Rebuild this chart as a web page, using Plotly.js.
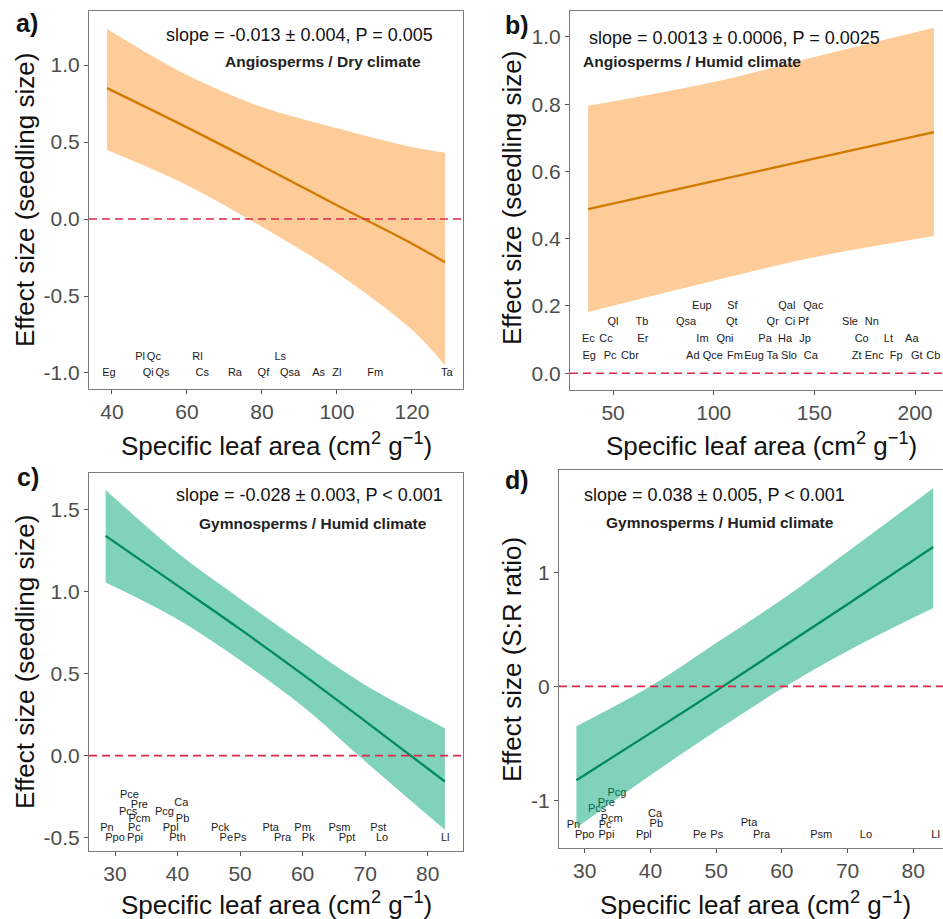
<!DOCTYPE html>
<html>
<head>
<meta charset="utf-8">
<script src="https://cdn.plot.ly/plotly-3.0.1.min.js"></script>
<style>body{margin:0;background:#fff;} #graph{width:943px;height:919px;}</style>
</head>
<body>
<div id="graph"></div>
<script>
// Panel a: angiosperms / dry climate
const aX = [38.7, 60, 80, 100, 120, 128.8];
const aFit = [0.85, 0.595, 0.345, 0.09, -0.16, -0.28];
const aUp = [1.234, 0.935, 0.727, 0.59, 0.468, 0.43];
const aLo = [0.448, 0.22, -0.05, -0.35, -0.72, -0.95];
const aLab = ['Eg','Pl','Qc','Qi','Qs','Rl','Cs','Ra','Qf','Ls','Qsa','As','Zl','Fm','Ta'];
const aLabX = [39.2, 47.5, 51.2, 49.7, 53.5, 62.8, 64.1, 72.8, 80.4, 84.9, 87.5, 95.1, 100, 110.2, 129.3];
const aLabY = [-1, -0.9, -0.9, -1, -1, -0.9, -1, -1, -1, -0.9, -1, -1, -1, -1, -1];

// Panel b: angiosperms / humid climate
const bX = [37.6, 100, 150, 209.4];
const bFit = [0.488, 0.571, 0.638, 0.717];
const bUp = [0.795, 0.866, 0.94, 1.027];
const bLo = [0.182, 0.275, 0.345, 0.408];
const bLab = ['Eup','Sf','Qal','Qac','Ql','Tb','Qsa','Qt','Qr','Ci','Pf','Sle','Nn',
  'Ec','Cc','Er','Im','Qni','Pa','Ha','Jp','Co','Lt','Aa',
  'Eg','Pc','Cbr','Ad','Qce','Fm','Eug','Ta','Slo','Ca','Zt','Enc','Fp','Gt','Cb'];
const bLabX = [94.1,109.3,136.3,149.5,49.9,64.3,86.3,109.0,129.3,137.9,144.5,167.7,178.5,
  37.7,46.5,64.8,94.4,105.6,125.5,135.4,145.4,173.5,186.8,198.4,
  38.1,48.5,58.4,89.6,99.5,110.6,120.0,129.1,137.4,148.2,171.0,179.7,190.6,200.9,209.1];
const bLabY = [0.2,0.2,0.2,0.2,0.15,0.15,0.15,0.15,0.15,0.15,0.15,0.15,0.15,
  0.1,0.1,0.1,0.1,0.1,0.1,0.1,0.1,0.1,0.1,0.1,
  0.05,0.05,0.05,0.05,0.05,0.05,0.05,0.05,0.05,0.05,0.05,0.05,0.05,0.05,0.05];

// Panel c: gymnosperms / humid climate, seedling size
const cX = [28.5, 40, 50, 60, 70, 82.75];
const cFit = [1.338, 1.035, 0.77, 0.495, 0.21, -0.158];
const cUp = [1.618, 1.235, 0.955, 0.685, 0.43, 0.167];
const cLo = [1.054, 0.83, 0.58, 0.30, -0.035, -0.452];
const cLab = ['Pn','Ppo','Pc','Ppi','Pcm','Pcs','Pre','Pce','Pcg','Ca','Pb','Ppl','Pth','Pck','Pe','Ps','Pta','Pra','Pm','Pk','Psm','Ppt','Pst','Lo','Ll'];
const cLabX = [28.7,30.0,33.1,33.2,33.9,32.1,33.9,32.3,37.9,40.6,40.8,38.9,40.0,46.8,47.8,50.0,54.9,56.8,60.0,60.9,65.9,67.1,72.1,72.7,82.8];
const cLabY = [-0.44,-0.505,-0.44,-0.505,-0.39,-0.345,-0.305,-0.24,-0.345,-0.29,-0.39,-0.44,-0.505,-0.44,-0.505,-0.505,-0.44,-0.505,-0.44,-0.505,-0.44,-0.505,-0.44,-0.505,-0.505];

// Panel d: gymnosperms / humid climate, S:R ratio
const dX = [28.74, 40, 50, 60, 70, 83.03];
const dFit = [-0.823, -0.41, -0.04, 0.34, 0.72, 1.221];
const dUp = [-0.35, 0.0, 0.38, 0.76, 1.18, 1.737];
const dLo = [-1.24, -0.78, -0.39, -0.02, 0.31, 0.686];
const dLab = ['Pn','Ppo','Pc','Ppi','Pcm','Pcs','Pre','Pcg','Ca','Pb','Ppl','Pe','Ps','Pta','Pra','Psm','Lo','Ll'];
const dLabX = [28.3,30.0,33.1,33.3,34.1,31.9,33.3,34.9,40.7,40.9,39.0,47.5,50.1,55.0,56.9,66.0,72.8,83.4];
const dLabY = [-1.22,-1.305,-1.22,-1.305,-1.167,-1.074,-1.027,-0.94,-1.117,-1.21,-1.305,-1.305,-1.305,-1.196,-1.305,-1.305,-1.305,-1.305];

const slopes = ['slope = -0.013 ± 0.004, P = 0.005', 'slope = 0.0013 ± 0.0006, P = 0.0025',
  'slope = -0.028 ± 0.003, P < 0.001', 'slope = 0.038 ± 0.005, P < 0.001'];
const groups = ['Angiosperms / Dry climate', 'Angiosperms / Humid climate',
  'Gymnosperms / Humid climate', 'Gymnosperms / Humid climate'];
const yTitles = ['Effect size (seedling size)', 'Effect size (seedling size)',
  'Effect size (seedling size)', 'Effect size (S:R ratio)'];
const xTitle = 'Specific leaf area (cm<sup>2</sup> g<sup>\u22121</sup>)';

const xTicks = [[40,60,80,100,120],[50,100,150,200],[30,40,50,60,70,80],[30,40,50,60,70,80]];
const yTicks = [[-1,-0.5,0,0.5,1],[0,0.2,0.4,0.6,0.8,1],[-0.5,0,0.5,1,1.5],[-1,0,1]];
const yDigits = [1,1,1,0];

const W = 943, H = 919;
const px = x => x / W, py = y => 1 - y / H;
const FONT = 'Liberation Sans, Arial, sans-serif';
const ORANGE_BAND = 'rgba(253,153,51,0.5)', ORANGE_LINE = '#d07a00';
const GREEN_BAND = 'rgba(1,165,117,0.5)', GREEN_LINE = '#008a5e';

function panelTraces(n, X, fit, up, lo, lab, labX, labY, band, lineCol) {
  const ax = n === 1 ? '' : String(n);
  const common = {xaxis: 'x' + ax, yaxis: 'y' + ax, hoverinfo: 'skip', showlegend: false};
  const smooth = {shape: 'spline', smoothing: 1};
  return [
    {...common, x: labX, y: labY, text: lab, mode: 'text', cliponaxis: false,
      textfont: {family: FONT, size: 11, color: '#1a1a1a'}},
    {...common, x: X, y: lo, mode: 'lines', line: {width: 0, ...smooth}},
    {...common, x: X, y: up, mode: 'lines', fill: 'tonexty', fillcolor: band, line: {width: 0, ...smooth}},
    {...common, x: X, y: fit, mode: 'lines', line: {color: lineCol, width: 2.3, ...smooth}}
  ];
}

const traces = [].concat(
  panelTraces(1, aX, aFit, aUp, aLo, aLab, aLabX, aLabY, ORANGE_BAND, ORANGE_LINE),
  panelTraces(2, bX, bFit, bUp, bLo, bLab, bLabX, bLabY, ORANGE_BAND, ORANGE_LINE),
  panelTraces(3, cX, cFit, cUp, cLo, cLab, cLabX, cLabY, GREEN_BAND, GREEN_LINE),
  panelTraces(4, dX, dFit, dUp, dLo, dLab, dLabX, dLabY, GREEN_BAND, GREEN_LINE)
);

// panel boxes in pixels: [left, right, top, bottom], and axis ranges
const boxes = [[89, 463, 11, 389], [570, 943, 11, 390], [89, 463, 473, 851], [559, 943, 470, 848]];
const xRanges = [[33.9, 133.6], [28.6, 213.9], [25.84, 85.65], [26.09, 84.52]];
const yRanges = [[-1.104, 1.351], [-0.05, 1.077], [-0.581, 1.721], [-1.417, 1.896]];
const cropped = [false, true, false, true];

const layout = {width: W, height: H, margin: {l: 0, r: 0, t: 0, b: 0},
  paper_bgcolor: '#fff', plot_bgcolor: '#fff', showlegend: false, annotations: [], shapes: []};

boxes.forEach((b, i) => {
  const ax = i === 0 ? '' : String(i + 1);
  const axisBase = {showgrid: false, zeroline: false, showline: true, linecolor: '#7a7a7a', linewidth: 1,
    ticks: 'outside', ticklen: 4, tickcolor: '#555', tickwidth: 1, tickmode: 'array',
    tickfont: {family: FONT, size: 21, color: '#4d4d4d'}, fixedrange: true};
  layout['xaxis' + ax] = {...axisBase, domain: [px(b[0]), px(b[1])], range: xRanges[i], anchor: 'y' + ax,
    mirror: true, tickvals: xTicks[i], ticktext: xTicks[i].map(String)};
  layout['yaxis' + ax] = {...axisBase, domain: [py(b[3]), py(b[2])], range: yRanges[i], anchor: 'x' + ax,
    mirror: !cropped[i], tickvals: yTicks[i], ticktext: yTicks[i].map(v => v.toFixed(yDigits[i]))};
  // red dashed zero line
  layout.shapes.push({type: 'line', xref: 'x' + ax + ' domain', yref: 'y' + ax, x0: 0, x1: 1, y0: 0, y1: 0,
    line: {color: '#d92b48', width: 1.6, dash: '8px,5px'}});
});

// text positions in pixels
const letterPos = [[27, 23], [517, 25], [28, 477], [517, 480]];
const slopePos = [[299, 35], [734, 38], [309, 495], [714, 495]];
const groupPos = [[323, 61], [692, 61], [313, 523], [720, 522]];
const yTitlePos = [[25, 200], [512, 198], [25, 662], [512, 660]];
const xTitlePos = [[276, 445], [761, 445], [276, 903], [755, 903]];
const letters = ['a)', 'b)', 'c)', 'd)'];

function note(text, x, y, font, extra) {
  layout.annotations.push({text: text, xref: 'paper', yref: 'paper', x: px(x), y: py(y),
    xanchor: 'center', yanchor: 'middle', showarrow: false, font: {family: FONT, ...font}, ...extra});
}

for (let i = 0; i < 4; i++) {
  note('<b>' + letters[i] + '</b>', letterPos[i][0], letterPos[i][1], {size: 25, color: '#111'});
  note(slopes[i], slopePos[i][0], slopePos[i][1], {size: 18, color: '#111'});
  note('<b>' + groups[i] + '</b>', groupPos[i][0], groupPos[i][1], {size: 15.5, color: '#222'});
  note(yTitles[i], yTitlePos[i][0], yTitlePos[i][1], {size: 26, color: '#111'}, {textangle: -90});
  note(xTitle, xTitlePos[i][0], xTitlePos[i][1], {size: 26, color: '#111'});
}

Plotly.newPlot('graph', traces, layout, {staticPlot: true, displayModeBar: false});
</script>
</body>
</html>
